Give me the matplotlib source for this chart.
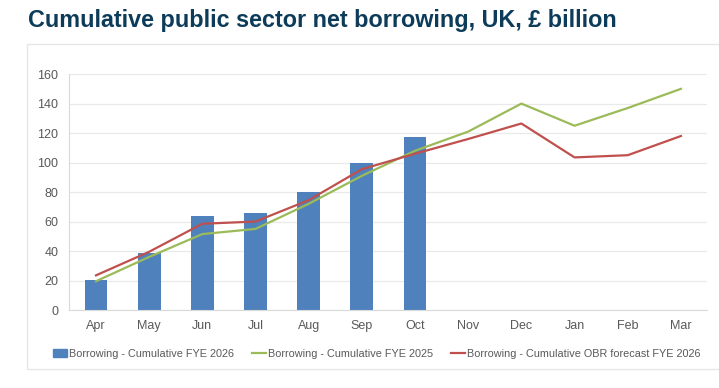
import numpy as np
import matplotlib
matplotlib.use("Agg")
import matplotlib.pyplot as plt
from matplotlib.patches import Rectangle, Patch
from matplotlib.lines import Line2D

months = ["Apr", "May", "Jun", "Jul", "Aug", "Sep", "Oct", "Nov", "Dec", "Jan", "Feb", "Mar"]
fye2026 = [20.5, 39, 64, 65.5, 80, 100, 117.5]
fye2025 = [19.5, 36, 51.5, 55, 72, 91, 108, 121, 140, 125, 137, 150]
obr2026 = [23.5, 39.5, 58.5, 60, 74.5, 95.5, 106, 116, 126.5, 103.5, 105, 118]

C_BAR, C_GREEN, C_RED = "#4f81bd", "#9bbb59", "#c0504d"
TXT = "#595959"

plt.rcParams["font.family"] = ["Liberation Sans", "DejaVu Sans"]

fig = plt.figure(figsize=(7.19, 3.88), dpi=100)
fig.patches.append(Rectangle((0.0376, 0.049), 1.0, 0.838, transform=fig.transFigure,
                             facecolor="white", edgecolor="#e6e6e6", lw=1, zorder=-1))
fig.text(0.039, 0.947, "Cumulative public sector net borrowing, UK, \u00a3 billion",
         fontsize=16.8, fontweight="bold", color="#0d3b5a", va="center", ha="left")

ax = fig.add_axes([0.0965, 0.201, 0.8875, 0.608])
ax.set_facecolor("none")
x = np.arange(len(months))
ax.bar(x[:len(fye2026)], fye2026, width=0.43, color=C_BAR, zorder=2)
ax.plot(x, fye2025, color=C_GREEN, lw=1.6, zorder=3)
ax.plot(x, obr2026, color=C_RED, lw=1.6, zorder=3)

ax.set_xlim(-0.5, len(months) - 0.5)
ax.set_ylim(0, 160)
ax.set_yticks(np.arange(0, 161, 20))
ax.set_xticks(x)
ax.set_xticklabels(months)
ax.grid(axis="y", color="#e9e9e9", lw=0.9, zorder=0)
for s in ("top", "right"):
    ax.spines[s].set_visible(False)
for s in ("left", "bottom"):
    ax.spines[s].set_color("#d9d9d9")
ax.tick_params(axis="both", length=0, colors=TXT, labelsize=9)
ax.tick_params(axis="y", pad=8)
ax.tick_params(axis="x", pad=7)

handles = [Patch(color=C_BAR), Line2D([], [], color=C_GREEN, lw=1.6),
           Line2D([], [], color=C_RED, lw=1.6)]
labels = ["Borrowing - Cumulative FYE 2026", "Borrowing - Cumulative FYE 2025",
          "Borrowing - Cumulative OBR forecast FYE 2026"]
leg = fig.legend(handles, labels, loc="center", bbox_to_anchor=(0.524, 0.088), ncol=3,
                 frameon=False, fontsize=7.8, handlelength=1.3, handletextpad=0.2,
                 columnspacing=1.6, labelcolor=TXT)

fig.savefig("out.png", dpi=100)
